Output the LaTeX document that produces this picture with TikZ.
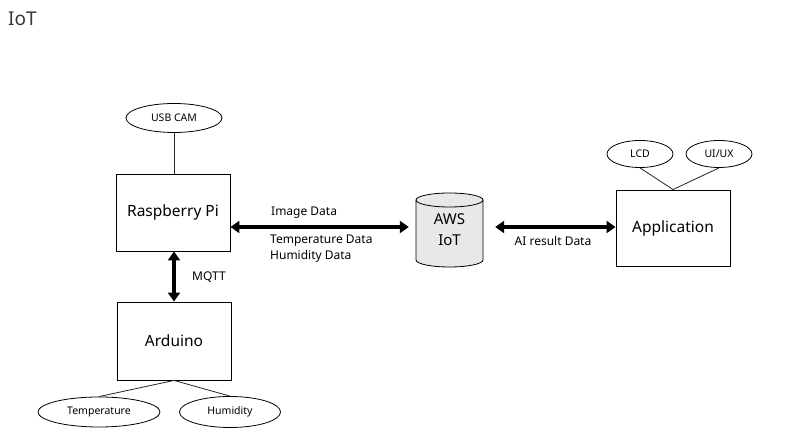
\documentclass[tikz,border=0pt]{standalone}
\usepackage{fontspec}
\setmainfont{Noto Sans}
\usetikzlibrary{arrows.meta,shapes.geometric}
\definecolor{titlegray}{RGB}{56,56,56}
\definecolor{cylfill}{RGB}{232,232,232}
\begin{document}
\begin{tikzpicture}[x=1pt,y=1pt,
  box/.style={draw=black,line width=0.9pt,fill=white,inner sep=0pt,font=\fontsize{15.5}{18}\selectfont},
  oval/.style={ellipse,draw=black,line width=0.8pt,inner sep=0pt,font=\fontsize{10.5}{12}\selectfont},
  lbl/.style={inner sep=0pt,font=\fontsize{12}{16}\selectfont},
  thin line/.style={draw=black!85,line width=0.8pt},
  bigarrow/.style={line width=3.6pt,{Triangle[length=9pt,width=12pt]}-{Triangle[length=9pt,width=12pt]}}
]
\useasboundingbox (0,0) rectangle (804,441);
\fill[white] (0,0) rectangle (804,441);

% title
\node[anchor=west,inner sep=0pt,text=titlegray,font=\fontsize{19}{22}\selectfont] (title) at (8,422) {IoT};

% left side
\node[oval,minimum width=96,minimum height=29] (usb) at (174,323) {USB CAM};
\node[box,minimum width=114,minimum height=77] (rpi) at (173,228.5) {Raspberry Pi};
\node[box,minimum width=114,minimum height=78] (ard) at (174,100) {Arduino};
\node[oval,minimum width=122,minimum height=30] (temp) at (99,29) {Temperature};
\node[oval,minimum width=101,minimum height=31] (hum) at (230,29) {Humidity};

\draw[thin line] (usb.south) -- (usb.south |- rpi.north);
\draw[thin line] (ard.south) -- (temp.north);
\draw[thin line] (ard.south) -- (hum.north);
\draw[bigarrow] (rpi.south -| ard.north) -- (ard.north);
\node[lbl,anchor=west] (mqtt) at (192,164) {MQTT};

% AWS cylinder
\filldraw[fill=cylfill,draw=black,line width=0.8pt]
  (416,241) -- (416,181) arc[start angle=180,end angle=360,x radius=33.5,y radius=7]
  -- (483,241) arc[start angle=0,end angle=180,x radius=33.5,y radius=7] -- cycle;
\draw[black,line width=0.8pt] (416,241) arc[start angle=180,end angle=360,x radius=33.5,y radius=7];
\node[inner sep=0pt,minimum width=67,minimum height=74,align=center,font=\fontsize{15}{21}\selectfont] (aws) at (449.5,211) {AWS\\IoT};

% right side
\node[box,minimum width=114,minimum height=76] (app) at (673,213) {Application};
\node[oval,minimum width=66,minimum height=27] (lcd) at (640,287) {LCD};
\node[oval,minimum width=66,minimum height=27] (ui) at (719,287) {UI/UX};
\draw[thin line] (lcd.south) -- (app.north);
\draw[thin line] (ui.south) -- (app.north);

% arrows
\draw[bigarrow,shorten >=7pt] (rpi.east |- 0,214) -- (aws.west |- 0,214);
\draw[bigarrow,shorten <=12pt] (aws.east |- 0,214) -- (app.west |- 0,214);

\node[lbl,anchor=west] (img) at (271,228) {Image Data};
\node[lbl,anchor=north west,align=left] (thd) at (270,206) {Temperature Data\\Humidity Data};
\node[lbl] (ai) at (553,200) {AI result Data};
\end{tikzpicture}
\end{document}
